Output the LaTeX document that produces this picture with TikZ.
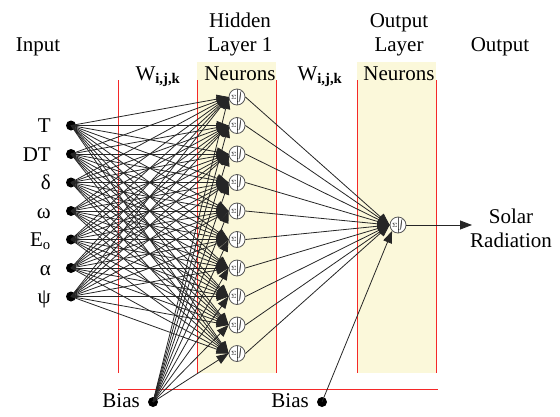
\documentclass[tikz,border=0pt]{standalone}
\usepackage{fontspec}
\setmainfont{Liberation Serif}
\usetikzlibrary{arrows.meta}
\definecolor{layerfill}{RGB}{251,248,218}
\definecolor{gridred}{RGB}{245,40,40}

\begin{document}
\begin{tikzpicture}[x=1pt,y=-1pt,
  font=\rmfamily\fontsize{21}{23}\selectfont,
  neuron/.style={circle, draw=black!65, fill=white, minimum size=16pt, inner sep=0pt, line width=0.8pt,
    path picture={
      \draw[black!65, line width=0.6pt] (path picture bounding box.north) -- (path picture bounding box.south);
      \node[inner sep=0pt, font=\fontsize{6}{6}\selectfont] at ([xshift=-3.2pt]path picture bounding box.center) {$\Sigma$};
      \node[inner sep=0pt, font=\fontsize{6}{6}\selectfont] at ([xshift=3.2pt]path picture bounding box.center) {$\int$};
    }},
  dot/.style={circle, fill=black, minimum size=10pt, inner sep=0pt},
  link/.style={draw=black!85, line width=0.8pt, -{Triangle[length=12pt,width=9pt]}},
  divider/.style={draw=gridred, line width=0.9pt},
  txt/.style={inner sep=0pt, anchor=base}]

\useasboundingbox (0,0) rectangle (560,416);

% shaded neuron layers
\fill[layerfill] (197,62) rectangle (276,373);
\fill[layerfill] (357,62) rectangle (436,373);

% layer dividers
\foreach \x in {118,197,276,357,436}
  \draw[divider] (\x,80) -- (\x,373);
\draw[divider] (118,389) -- (438,389);

% headings
\node[txt] (hInput) at (38,51) {Input};
\node[txt] (hHid1) at (240,27) {Hidden};
\node[txt] (hHid2) at (240,51) {Layer 1};
\node[txt] (hOut1) at (399,27) {Output};
\node[txt] (hOut2) at (399,51) {Layer};
\node[txt] (hOutput) at (500,51) {Output};
\node[txt] (w1) at (158,80) {W\textsubscript{\textbf{i,j,k}}};
\node[txt] (w2) at (320,80) {W\textsubscript{\textbf{i,j,k}}};
\node[txt] (n1) at (240,80) {Neurons};
\node[txt] (n2) at (399,80) {Neurons};

% inputs
\foreach \lab [count=\j] in {T,DT,δ,ω,E\textsubscript{o},α,ψ} {
  \pgfmathsetmacro{\yy}{125.5+28.5*(\j-1)}
  \node[dot] (in\j) at (71,\yy) {};
  \node[inner sep=0pt, anchor=base east] (lab\j) at (51,\yy+7) {\lab};
}

% hidden neurons
\foreach \i in {1,...,10} {
  \pgfmathsetmacro{\yy}{97+28.5*(\i-1)}
  \node[neuron] (h\i) at (237,\yy) {};
}

% output neuron and bias nodes
\node[neuron] (out) at (398,225) {};
\node[dot] (b1) at (153,402) {};
\node[dot] (b2) at (322,402) {};
\node[txt, anchor=base east] (b1lab) at (140,407) {Bias};
\node[txt, anchor=base east] (b2lab) at (309,407) {Bias};
\coordinate (target) at (472,225);
\node[txt] (sol1) at (511,223) {Solar};
\node[txt] (sol2) at (511,247) {Radiation};

% input -> hidden weights
\foreach \j in {1,...,7}
  \foreach \i in {1,...,10}
    \draw[link] (in\j.center) -- (h\i.west);

% bias -> hidden
\foreach \i in {1,...,10}
  \draw[link] (b1.center) -- (h\i.west);

% hidden -> output
\foreach \i in {1,...,10}
  \draw[link] (h\i.east) -- (out.west);
\draw[link] (b2.center) -- (out.south west);

% network output
\draw[link] (out.east) -- (target);
\end{tikzpicture}
\end{document}
